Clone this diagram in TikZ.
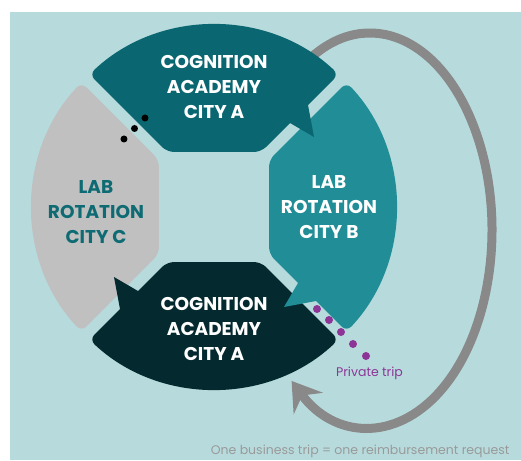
\documentclass[tikz,border=0pt]{standalone}
\usepackage{fontspec}
\setmainfont{Poppins}
\usetikzlibrary{arrows.meta}

\definecolor{bgteal}{HTML}{B7DBDC}
\definecolor{colA}{HTML}{0A6670}
\definecolor{colB}{HTML}{208D97}
\definecolor{colBot}{HTML}{04292F}
\definecolor{colC}{HTML}{C0C0C0}
\definecolor{textC}{HTML}{0E6B73}
\definecolor{tripGray}{HTML}{898989}
\definecolor{tripPurple}{HTML}{8C3597}
\definecolor{capGray}{HTML}{9A9A9A}

\begin{document}
\begin{tikzpicture}[x=1pt,y=1pt,
  tagtext/.style={font=\bfseries\fontsize{18.5}{25}\selectfont,align=center,text=white},
  smalltext/.style={font=\fontsize{12.5}{14}\selectfont}]

\useasboundingbox (-214,-253) rectangle (307,207);
\fill[bgteal] (-204,-253) rectangle (307,195);

% business trip loop
\draw[tripGray,line width=9pt,-{Stealth[length=28pt,width=36pt,inset=10pt]}]
  (156,-23) ++(125:122 and 197) arc[start angle=125,end angle=-130,x radius=122,y radius=197];

% the four parts of the ring, three of them with a tail over the next one
\fill[colC,rotate=90,rounded corners=7pt]
  (-47,55) -- (47,55) -- (124.6,132.6) arc[start angle=46.8,end angle=133.2,radius=182] -- cycle;
\foreach \ang/\col in {180/colBot,-90/colB,0/colA}{
  \fill[\col,rotate=\ang,rounded corners=7pt]
    (-47,55) -- (47,55) -- (124.6,132.6) arc[start angle=46.8,end angle=133.2,radius=182] -- cycle;
  \fill[\col,rotate=\ang] (76,84) -- (100,70) -- (94,102) -- (70,110) -- cycle;
}

\node[tagtext] (acadTop) at (0,120) {COGNITION\\ACADEMY\\CITY A};
\node[tagtext] (labB) at (115,0) {LAB\\ROTATION\\CITY B};
\node[tagtext] (acadBot) at (0,-122) {COGNITION\\ACADEMY\\CITY A};
\node[tagtext,text=textC] (labC) at (-118,-5) {LAB\\ROTATION\\CITY C};

% dots
\foreach \p in {(-69,89),(-79.5,78.5),(-90,68)}
  \fill[black] \p circle[radius=3.5];
\foreach \p in {(103,-102),(115,-113),(127,-125),(139,-137),(152,-149)}
  \fill[tripPurple] \p circle[radius=4];

\node[smalltext,text=tripPurple] (privTrip) at (155.5,-166) {Private trip};
\node[smalltext,text=capGray,anchor=base east] (caption) at (299,-247)
  {One business trip = one reimbursement request};

\end{tikzpicture}
\end{document}
